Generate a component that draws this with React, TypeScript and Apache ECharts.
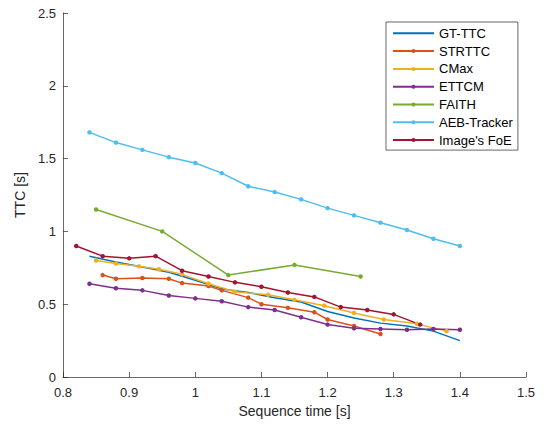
import React, { useEffect, useRef } from "react";
import * as echarts from "echarts";

const gtX = [0.84, 0.88, 0.92, 0.96, 1.0, 1.04, 1.08, 1.12, 1.16, 1.2, 1.24, 1.28, 1.32, 1.36, 1.4];
const gtY = [0.83, 0.79, 0.755, 0.72, 0.665, 0.605, 0.58, 0.545, 0.515, 0.45, 0.405, 0.37, 0.35, 0.315, 0.25];

const strX = [0.86, 0.88, 0.92, 0.96, 0.98, 1.02, 1.04, 1.08, 1.1, 1.14, 1.18, 1.2, 1.24, 1.28];
const strY = [0.7, 0.675, 0.68, 0.675, 0.645, 0.625, 0.595, 0.545, 0.5, 0.475, 0.445, 0.395, 0.35, 0.295];

const cmaxX = [0.85, 0.88, 0.915, 0.945, 0.98, 1.02, 1.06, 1.11, 1.15, 1.195, 1.24, 1.285, 1.335, 1.38];
const cmaxY = [0.8, 0.78, 0.76, 0.74, 0.705, 0.64, 0.585, 0.565, 0.53, 0.49, 0.44, 0.395, 0.365, 0.315];

const ettcmX = [0.84, 0.88, 0.92, 0.96, 1.0, 1.04, 1.08, 1.12, 1.16, 1.2, 1.24, 1.28, 1.32, 1.36, 1.4];
const ettcmY = [0.64, 0.61, 0.595, 0.56, 0.54, 0.52, 0.48, 0.46, 0.41, 0.36, 0.335, 0.33, 0.325, 0.33, 0.325];

const faithX = [0.85, 0.95, 1.05, 1.15, 1.25];
const faithY = [1.15, 1.0, 0.7, 0.77, 0.69];

const aebX = [0.84, 0.88, 0.92, 0.96, 1.0, 1.04, 1.08, 1.12, 1.16, 1.2, 1.24, 1.28, 1.32, 1.36, 1.4];
const aebY = [1.68, 1.61, 1.56, 1.51, 1.47, 1.4, 1.31, 1.27, 1.22, 1.16, 1.11, 1.06, 1.01, 0.95, 0.9];

const foeX = [0.82, 0.86, 0.9, 0.94, 0.98, 1.02, 1.06, 1.1, 1.14, 1.18, 1.22, 1.26, 1.3, 1.34];
const foeY = [0.9, 0.83, 0.815, 0.83, 0.73, 0.69, 0.65, 0.62, 0.58, 0.55, 0.48, 0.46, 0.43, 0.36];

const seriesDefs = [
  { name: "GT-TTC", xs: gtX, ys: gtY, color: "#0072BD", marker: false },
  { name: "STRTTC", xs: strX, ys: strY, color: "#D95319", marker: true },
  { name: "CMax", xs: cmaxX, ys: cmaxY, color: "#EDB120", marker: true },
  { name: "ETTCM", xs: ettcmX, ys: ettcmY, color: "#7E2F8E", marker: true },
  { name: "FAITH", xs: faithX, ys: faithY, color: "#77AC30", marker: true },
  { name: "AEB-Tracker", xs: aebX, ys: aebY, color: "#4DBEEE", marker: true },
  { name: "Image's FoE", xs: foeX, ys: foeY, color: "#A2142F", marker: true },
];

const FONT = "Liberation Sans, Arial, Helvetica, sans-serif";

export default function App() {
  const ref = useRef<HTMLDivElement>(null);
  useEffect(() => {
    if (!ref.current) return;
    const chart = echarts.init(ref.current, undefined, { renderer: "svg" });
    chart.setOption({
      animation: false,
      backgroundColor: "#ffffff",
      grid: { left: 63, right: 18, top: 13, bottom: 52, containLabel: false },
      xAxis: {
        type: "value",
        min: 0.8,
        max: 1.5,
        interval: 0.1,
        name: "Sequence time [s]",
        nameLocation: "middle",
        nameGap: 27,
        nameTextStyle: { fontFamily: FONT, fontSize: 14, color: "#262626" },
        axisLine: { show: true, onZero: false, lineStyle: { color: "#262626", width: 0.7 } },
        axisTick: { show: true, inside: true, length: 5, lineStyle: { color: "#262626", width: 0.7 } },
        axisLabel: {
          fontFamily: FONT,
          fontSize: 13,
          color: "#262626",
          margin: 9,
          formatter: (v: number) => String(Math.round(v * 10) / 10),
        },
        splitLine: { show: false },
      },
      yAxis: {
        type: "value",
        min: 0,
        max: 2.5,
        interval: 0.5,
        name: "TTC [s]",
        nameLocation: "middle",
        nameGap: 34,
        nameRotate: 90,
        nameTextStyle: { fontFamily: FONT, fontSize: 14, color: "#262626" },
        axisLine: { show: true, onZero: false, lineStyle: { color: "#262626", width: 0.7 } },
        axisTick: { show: true, inside: true, length: 5, lineStyle: { color: "#262626", width: 0.7 } },
        axisLabel: {
          fontFamily: FONT,
          fontSize: 13,
          color: "#262626",
          margin: 7,
          formatter: (v: number) => String(Math.round(v * 10) / 10),
        },
        splitLine: { show: false },
      },
      legend: {
        orient: "vertical",
        left: 386,
        top: 22,
        itemWidth: 41,
        itemHeight: 5,
        itemGap: 4.8,
        padding: [4.8, 5, 3.5, 6],
        borderColor: "#262626",
        borderWidth: 0.7,
        backgroundColor: "#ffffff",
        textStyle: { fontFamily: FONT, fontSize: 13, lineHeight: 13, color: "#000000" },
        data: seriesDefs.map((s) =>
          s.marker ? { name: s.name } : { name: s.name, itemStyle: { opacity: 0 } }
        ),
      },
      series: seriesDefs.map((s) => ({
        name: s.name,
        type: "line",
        data: s.xs.map((x, i) => [x, s.ys[i]]),
        color: s.color,
        lineStyle: { color: s.color, width: 1.5 },
        itemStyle: { color: s.color },
        symbol: s.marker ? "circle" : "none",
        symbolSize: 4.5,
        showSymbol: s.marker,
        clip: true,
      })),
    });
    return () => chart.dispose();
  }, []);
  return <div ref={ref} style={{ width: 544, height: 429, margin: -8 }} />;
}
